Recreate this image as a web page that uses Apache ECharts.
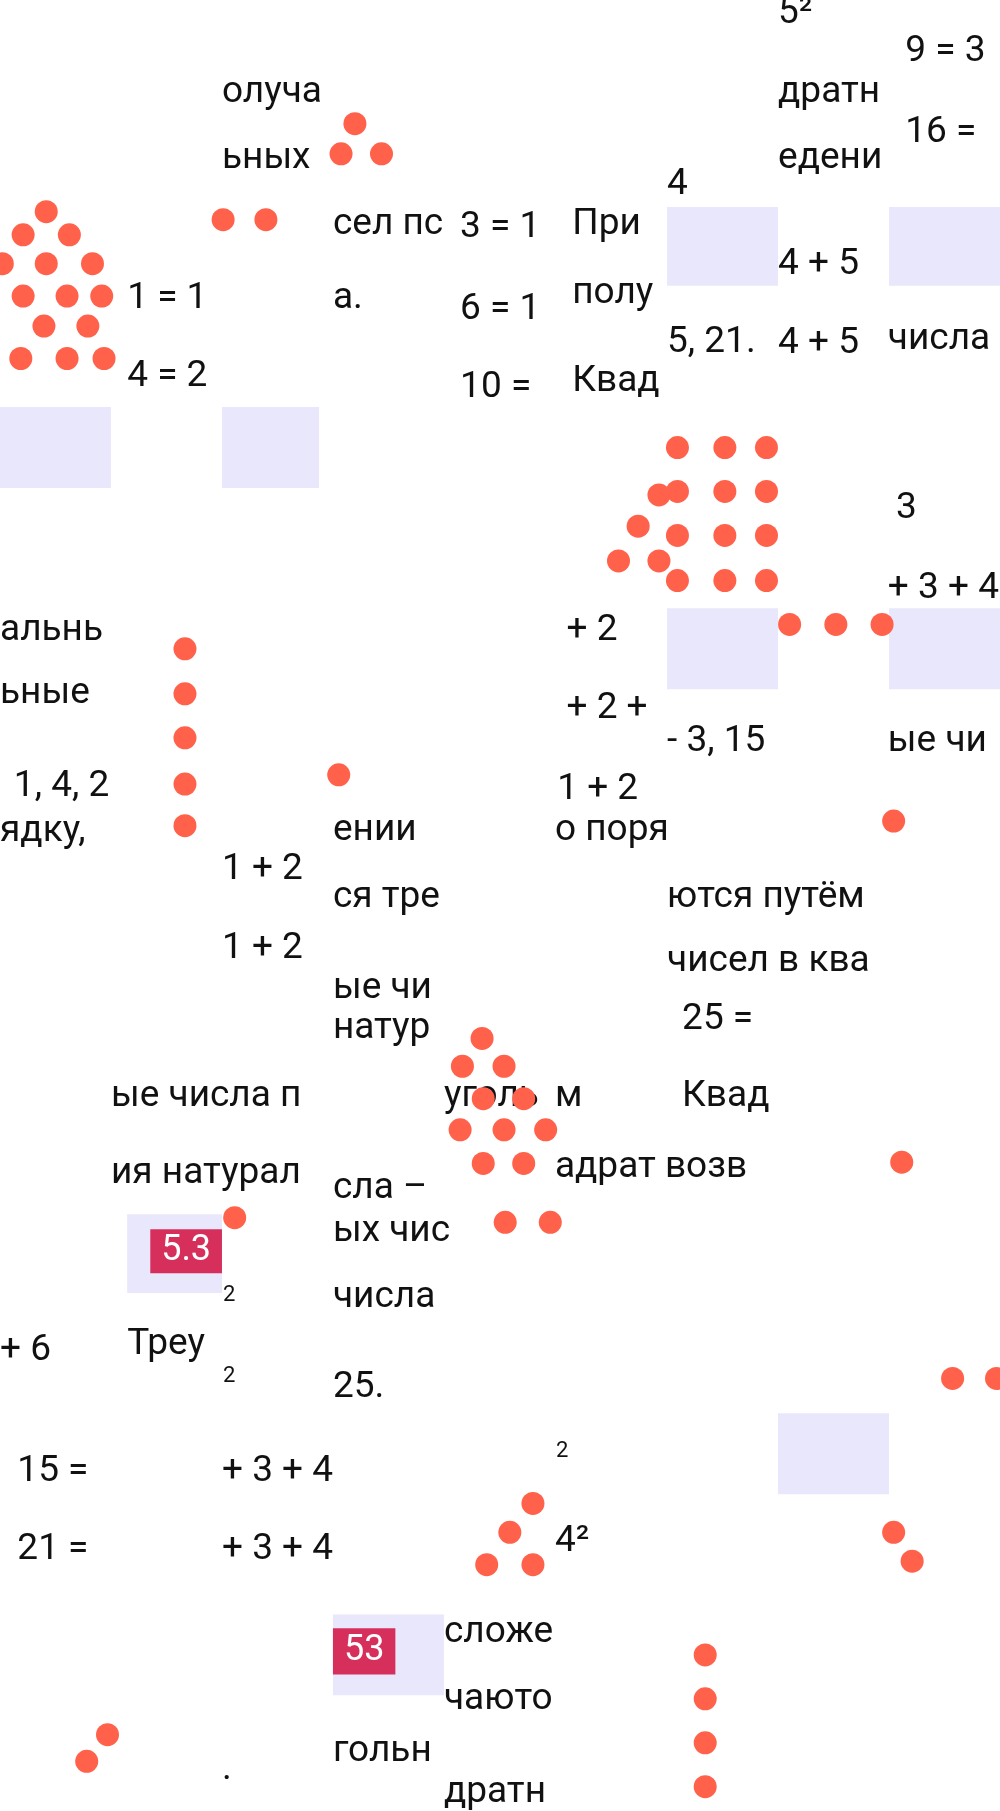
<!DOCTYPE html><html><head><meta charset="utf-8"><script src="https://cdn.jsdelivr.net/npm/echarts@6/dist/echarts.min.js"></script>
<style>html,body{margin:0;background:#fff}#c{width:1000px;height:1811px}</style></head><body><div id="c"></div><script>
const dots=[[40,183],[20,203],[60,203],[2,228],[40,228],[80,228],[20,256],[58,256],[88,256],[38,282],[76,282],[18,310],[58,310],[90,310],
[307,107],[295,133],[330,133],[193,190],[230,190],
[586,387],[627,387],[663,387],[586,425],[627,425],[663,425],[570,428],[552,455],[586,463],[627,463],[663,463],[535,485],[570,485],[586,502],[627,502],[663,502],[683,540],[723,540],[763,540],
[160,561],[160,600],[160,638],[160,678],[160,714],[293,670],[773,710],
[417,898],[400,922],[436,922],[418,950],[453,950],[398,977],[436,977],[472,977],[418,1006],[453,1006],[437,1057],[476,1057],[203,1053],[780,1005],
[824,1192],[862,1192],[461,1300],[441,1325],[421,1353],[461,1353],[773,1325],[789,1350],
[610,1431],[610,1469],[610,1507],[610,1545],[75,1523],[93,1500]];
const rects=[[0,352,96,70],[192,352,84,70],[577,179,96,68],[769,179,96,68],[577,526,96,70],[769,526,96,70],[110,1050,82,68],[673,1222,96,70],[288,1396,96,70]];
const tags=[[130,1063,62,38,"5.3"],[288,1408,54,40,"53"]];
const texts=[[192,80,"олуча"],[192,137,"ьных"],[288,194,"сел пс"],[110,258,"1 = 1"],[110,326,"4 = 2"],[288,258,"а."],[398,197,"3 = 1"],[398,268,"6 = 1"],[398,335,"10 ="],[495,194,"При"],[495,254,"полу"],[495,330,"Квад"],[577,160,"4"],[673,229,"4 + 5"],[673,297,"4 + 5"],[577,296,"5, 21."],[768,294,"числа –"],[673,80,"дратн"],[673,137,"едени"],[673,12,"5²"],[783,45,"9 = 3"],[783,115,"16 ="],[775,440,"3"],[768,509,"+ 3 + 4"],
[0,545,"альнь"],[0,600,"ьные"],[12,680,"1, 4, 2"],[0,719,"ядку,"],[490,545,"+ 2"],[490,613,"+ 2 +"],[482,683,"1 + 2"],[577,641,"- 3, 15"],[768,641,"ые чи"],[288,718,"ении"],[480,718,"о поря"],[192,752,"1 + 2"],[288,776,"ся тре"],[577,776,"ются путём"],[192,820,"1 + 2"],[577,832,"чисел в ква"],[288,855,"ые чи"],[288,890,"натур"],[590,882,"25 ="],
[96,948,"ые числа п"],[384,948,"уголь"],[480,948,"м"],[590,948,"Квад"],[96,1015,"ия натурал"],[480,1010,"адрат возв"],[288,1028,"сла –"],[288,1065,"ых чис"],[288,1122,"числа"],[0,1168,"+ 6"],[110,1163,"Треу"],[288,1200,"25."],[15,1273,"15 ="],[192,1273,"+ 3 + 4"],[15,1340,"21 ="],[192,1340,"+ 3 + 4"],[480,1333,"4²"],[384,1412,"сложе"],[384,1470,"чаюто"],[288,1515,"гольн"],[384,1550,"дратн"],[192,1530,"."]];
const sups=[[193,1120,"2"],[193,1190,"2"],[481,1255,"2"]];
const K=1000/865;
const ch=echarts.init(document.getElementById('c'));
ch.setOption({animation:false,grid:{left:0,right:0,top:0,bottom:0},
xAxis:{type:'value',min:0,max:865,show:false},yAxis:{type:'value',min:0,max:1566,inverse:true,show:false},
series:[
{type:'custom',data:rects,renderItem:(p,api)=>{const a=api.coord([api.value(0),api.value(1)]),b=api.coord([api.value(0)+api.value(2),api.value(1)+api.value(3)]);return{type:'rect',shape:{x:a[0],y:a[1],width:b[0]-a[0],height:b[1]-a[1]},style:{fill:'#E9E7FB'}};}},
{type:'custom',data:tags,renderItem:(p,api)=>{const d=tags[p.dataIndex];const a=api.coord([d[0],d[1]]),b=api.coord([d[0]+d[2],d[1]+d[3]]);return{type:'group',children:[{type:'rect',shape:{x:a[0],y:a[1],width:b[0]-a[0],height:b[1]-a[1]},style:{fill:'#D62F5B'}},{type:'text',style:{x:(a[0]+b[0])/2,y:(a[1]+b[1])/2,text:d[4],fill:'#fff',font:'36px Roboto',align:'center',verticalAlign:'middle'}}]};}},
{type:'custom',data:texts,renderItem:(p,api)=>{const d=texts[p.dataIndex];const a=api.coord([d[0],d[1]]);return{type:'text',style:{x:a[0],y:a[1],text:d[2],fill:'#111',font:'37px Roboto',verticalAlign:'middle'}};}},
{type:'custom',data:sups,renderItem:(p,api)=>{const d=sups[p.dataIndex];const a=api.coord([d[0],d[1]]);return{type:'text',style:{x:a[0],y:a[1],text:d[2],fill:'#111',font:'22px Roboto',verticalAlign:'middle'}};}},
{type:'scatter',data:dots,symbolSize:23,itemStyle:{color:'#FF614B',opacity:1},silent:true}
]});
</script></body></html>
